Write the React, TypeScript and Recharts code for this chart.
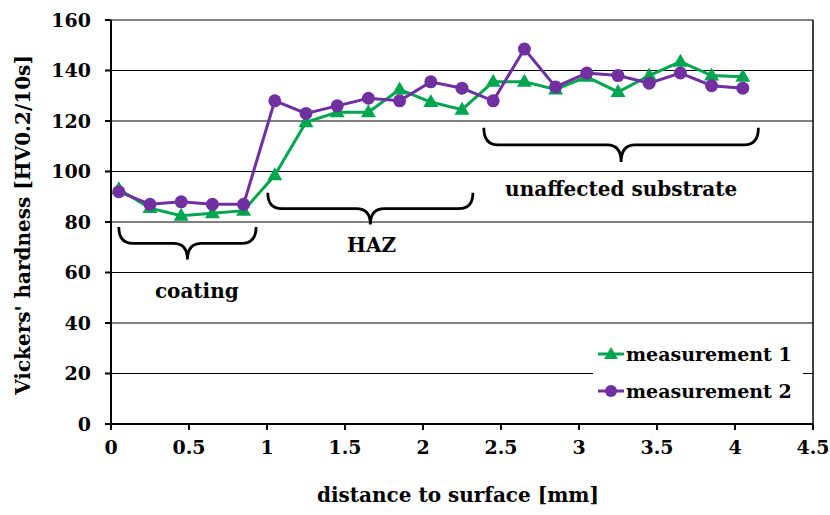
import React from 'react'
import {
  LineChart,
  Line,
  XAxis,
  YAxis,
  CartesianGrid,
  Legend,
  ReferenceArea,
  ReferenceDot,
  ReferenceLine,
  Label,
} from 'recharts'

const distances = [
  0.05, 0.25, 0.45, 0.65, 0.85, 1.05, 1.25, 1.45, 1.65, 1.85, 2.05, 2.25, 2.45, 2.65, 2.85, 3.05,
  3.25, 3.45, 3.65, 3.85, 4.05,
]
const measurement1 = [
  93, 85.5, 82.5, 83.5, 84.5, 98.5, 119.5, 123.5, 123.5, 132.5, 127.5, 124.5, 135.5, 135.5, 132.5,
  137.5, 131.5, 138, 143.5, 138, 137.5,
]
const measurement2 = [
  92, 87, 88, 87, 87, 128, 123, 126, 129, 128, 135.5, 133, 128, 148.5, 133.5, 139, 138, 135, 139,
  134, 133,
]
const xTicks = [0, 0.5, 1, 1.5, 2, 2.5, 3, 3.5, 4, 4.5]
const yTicks = [0, 20, 40, 60, 80, 100, 120, 140, 160]
const seriesNames = ['measurement 1', 'measurement 2']

// brace spans [x1, x2, yTip, yTop] and label anchors [x, y, text]
const braces = [
  [0.05, 0.93, 65.1, 78],
  [1.005, 2.32, 79, 91.6],
  [2.39, 4.15, 103.8, 117.3],
]
const braceLabels: [number, number, string][] = [
  [0.55, 52.5, 'coating'],
  [1.67, 71, 'HAZ'],
  [3.27, 93.2, 'unaffected substrate'],
]

const data = distances.map((d, i) => ({ d, m1: measurement1[i], m2: measurement2[i] }))

const GREEN = '#00A550'
const PURPLE = '#7030A0'
const FONT = "'DejaVu Serif', serif"

const Triangle = (props: any) => {
  const { cx, cy, fill } = props
  if (cx == null || cy == null) return null
  return <polygon points={`${cx},${cy - 8} ${cx - 7.5},${cy + 5} ${cx + 7.5},${cy + 5}`} fill={fill} />
}

const Brace = (props: any) => {
  const { x, y, width, height } = props
  const mid = y + height / 2
  const bottom = y + height
  const cx = x + width / 2
  const r = 14
  const d = `M${x},${y} Q${x},${mid} ${x + r},${mid} L${cx - r},${mid} Q${cx},${mid} ${cx},${bottom} Q${cx},${mid} ${cx + r},${mid} L${x + width - r},${mid} Q${x + width},${mid} ${x + width},${y}`
  return <path d={d} fill="none" stroke="#000" strokeWidth={2.8} />
}

const TextLabel = (text: string) => (props: any) => {
  const { cx, cy } = props
  return (
    <text x={cx} y={cy} textAnchor="middle" dominantBaseline="central" fontFamily={FONT} fontWeight="bold" fontSize={20} fill="#000">
      {text}
    </text>
  )
}

const LegendContent = () => (
  <div style={{ fontFamily: FONT, fontWeight: 'bold', fontSize: 19, color: '#000' }}>
    {seriesNames.map((name, i) => (
      <div key={name} style={{ display: 'flex', alignItems: 'center', height: 37 }}>
        <svg width={26} height={16} style={{ marginRight: 2 }}>
          <line x1={0} y1={8} x2={26} y2={8} stroke={i === 0 ? GREEN : PURPLE} strokeWidth={3} />
          {i === 0 ? (
            <polygon points="13,1 6,13 20,13" fill={GREEN} />
          ) : (
            <circle cx={13} cy={8} r={6} fill={PURPLE} />
          )}
        </svg>
        <span>{name}</span>
      </div>
    ))}
  </div>
)

export default function App() {
  return (
    <div style={{ position: 'absolute', left: 0, top: 0, width: 830, height: 515, background: '#fff' }}>
      <LineChart width={830} height={515} data={data} margin={{ top: 20, right: 17, left: 0, bottom: 0 }}>
        <CartesianGrid horizontal vertical={false} stroke="#000" strokeWidth={1} />
        <ReferenceLine x={4.5} stroke="#000" strokeWidth={1.5} />
        <XAxis
          dataKey="d"
          type="number"
          domain={[0, 4.5]}
          ticks={xTicks}
          height={91}
          stroke="#000"
          strokeWidth={2}
          tickSize={6}
          tickMargin={11}
          tick={{ fill: '#000', fontFamily: FONT, fontWeight: 'bold', fontSize: 19 }}
        >
          <Label
            content={(p: any) => {
              const vb = p.viewBox
              return (
                <text x={vb.x + vb.width / 2 - 4} y={495} textAnchor="middle" dominantBaseline="central" fontFamily={FONT} fontWeight="bold" fontSize={20} fill="#000">
                  distance to surface [mm]
                </text>
              )
            }}
          />
        </XAxis>
        <YAxis
          type="number"
          domain={[0, 160]}
          ticks={yTicks}
          width={111}
          stroke="#000"
          strokeWidth={2}
          tickSize={6}
          tickMargin={14}
          tick={{ fill: '#000', fontFamily: FONT, fontWeight: 'bold', fontSize: 19 }}
        >
          <Label
            content={(p: any) => {
              const vb = p.viewBox
              const cy = vb.y + vb.height / 2 + 3
              return (
                <text x={23} y={cy} transform={`rotate(-90 23 ${cy})`} textAnchor="middle" dominantBaseline="central" fontFamily={FONT} fontWeight="bold" fontSize={20} fill="#000">
                  Vickers' hardness [HV0.2/10s]
                </text>
              )
            }}
          />
        </YAxis>
        {braces.map(([x1, x2, y1, y2], i) => (
          <ReferenceArea key={i} x1={x1} x2={x2} y1={y1} y2={y2} shape={<Brace />} ifOverflow="visible" />
        ))}
        {braceLabels.map(([x, y, t]) => (
          <ReferenceDot key={t} x={x} y={y} r={0} shape={TextLabel(t)} ifOverflow="visible" />
        ))}
        <Line
          dataKey="m1"
          name={seriesNames[0]}
          stroke={GREEN}
          strokeWidth={3}
          dot={<Triangle fill={GREEN} />}
          activeDot={false}
          isAnimationActive={false}
        />
        <Line
          dataKey="m2"
          name={seriesNames[1]}
          stroke={PURPLE}
          strokeWidth={3}
          dot={{ r: 6.5, fill: PURPLE, stroke: 'none' }}
          activeDot={false}
          isAnimationActive={false}
        />
        <Legend
          layout="vertical"
          align="center"
          verticalAlign="middle"
          content={<LegendContent />}
          wrapperStyle={{ left: 593, top: 335, width: 205, height: 74, background: '#fff', paddingLeft: 5 }}
        />
      </LineChart>
    </div>
  )
}
